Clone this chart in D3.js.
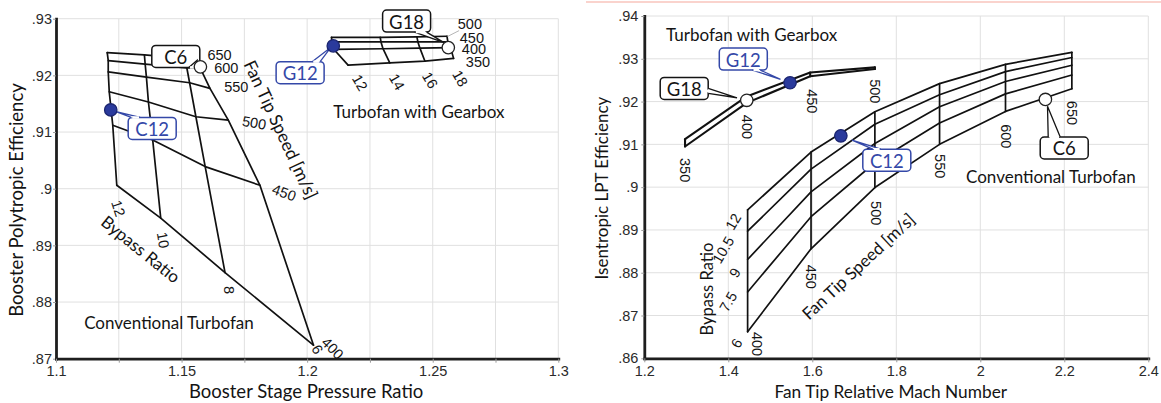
<!DOCTYPE html>
<html>
<head>
<meta charset="utf-8">
<script src="https://cdn.jsdelivr.net/npm/d3@7"></script>
<style>
  html, body { margin: 0; padding: 0; background: #fff; }
  svg { display: block; }
</style>
</head>
<body>
<svg id="chart" width="1161" height="403"></svg>
<script>
// ===================== Data =====================

// --- Booster panel (left) ---
const boosterPRTicks  = [1.1, 1.15, 1.2, 1.25, 1.3];
const boosterPRGrid   = [1.1, 1.125, 1.15, 1.175, 1.2, 1.225, 1.25, 1.275, 1.3];
const boosterEffTicks = [0.87, 0.88, 0.89, 0.90, 0.91, 0.92, 0.93];

// Conventional turbofan carpet: rows = fan tip speed, columns = bypass ratio
const convSpeedB  = [650, 600, 550, 500, 450, 400];
const convBypassB = [12, 10, 8, 6];
const convPRB = [
  [1.1204, 1.1352, 1.1514, 1.1557],
  [1.1208, 1.1355, 1.1521, 1.1573],
  [1.1208, 1.1360, 1.1532, 1.1613],
  [1.1212, 1.1368, 1.1557, 1.1686],
  [1.1226, 1.1385, 1.1594, 1.1812],
  [1.1242, 1.1417, 1.1673, 1.2025]
];
const convEffB = [
  [0.9240, 0.9236, 0.9230, 0.9228],
  [0.9226, 0.9220, 0.9213, 0.9214],
  [0.9206, 0.9197, 0.9187, 0.9177],
  [0.9171, 0.9153, 0.9127, 0.9121],
  [0.9112, 0.9086, 0.9039, 0.9006],
  [0.9006, 0.8948, 0.8852, 0.8724]
];

// Geared turbofan carpet: rows = fan tip speed, columns = bypass ratio
const gearSpeedB  = [500, 450, 400, 350];
const gearBypassB = [12, 14, 16, 18];
const gearPRB = [
  [1.2097, 1.2291, 1.2437, 1.2557],
  [1.2099, 1.2294, 1.2441, 1.2560],
  [1.2106, 1.2302, 1.2449, 1.2571],
  [1.2163, 1.2329, 1.2469, 1.2583]
];
const gearEffB = [
  [0.9267, 0.9267, 0.9268, 0.9269],
  [0.9259, 0.9259, 0.9259, 0.9259],
  [0.9246, 0.9247, 0.9248, 0.9249],
  [0.9218, 0.9222, 0.9225, 0.9230]
];

// Design points on the booster map
const pointNamesB  = ["C12", "C6", "G12", "G18"];
const pointPRB     = [1.1218, 1.1575, 1.2104, 1.2562];
const pointEffB    = [0.9139, 0.9215, 0.9252, 0.9249];
const pointFilledB = [true, false, true, false];

// --- LPT panel (right) ---
const machTicks    = [1.2, 1.4, 1.6, 1.8, 2.0, 2.2, 2.4];
const lptEffTicks  = [0.86, 0.87, 0.88, 0.89, 0.90, 0.91, 0.92, 0.93, 0.94];

// Conventional turbofan carpet: rows = bypass ratio, columns = fan tip speed
const convSpeedR  = [400, 450, 500, 550, 600, 650];
const convMachR   = [1.446, 1.597, 1.749, 1.903, 2.060, 2.218];
const convBypassR = [12, 10.5, 9, 7.5, 6];
const convEffR = [
  [0.8947, 0.9082, 0.9176, 0.9242, 0.9287, 0.9315],
  [0.8897, 0.9042, 0.9147, 0.9216, 0.9270, 0.9303],
  [0.8831, 0.8989, 0.9102, 0.9188, 0.9247, 0.9285],
  [0.8755, 0.8931, 0.9057, 0.9150, 0.9218, 0.9262],
  [0.8662, 0.8856, 0.8999, 0.9100, 0.9177, 0.9230]
];

// Geared turbofan carpet (narrow band): rows = bypass ratio, columns = fan tip speed
const gearSpeedR  = [350, 400, 450, 500];
const gearMachR   = [1.297, 1.444, 1.595, 1.749];
const gearBypassR = [12, 18];
const gearEffR = [
  [0.9112, 0.9212, 0.9268, 0.9280],
  [0.9095, 0.9197, 0.9259, 0.9276]
];

// Design points on the LPT map
const pointNamesR  = ["G12", "G18", "C12", "C6"];
const pointMachR   = [1.547, 1.444, 1.668, 2.155];
const pointEffR    = [0.9244, 0.9203, 0.9120, 0.9205];
const pointFilledR = [true, false, true, false];

// ===================== Drawing =====================
const svg = d3.select("#chart");
const FONT_TEXT = "Lato, 'Open Sans', sans-serif";
const FONT_NUM  = "'Liberation Sans', Arial, sans-serif";
const INK = "#111";
const BLUE = "#3448a8";
const fmtNum = d => String(+d.toFixed(3)).replace(/^0\./, ".");

// thin accent rule above the right panel
svg.append("line")
  .attr("x1", 586).attr("x2", 1161).attr("y1", 2).attr("y2", 2)
  .attr("stroke", "#f5a79b").attr("stroke-width", 1.2);

function frame(x, y, xGrid, xLabels, yGrid, opt) {
  const g = svg.append("g");
  const [y0, y1] = y.range();
  const [x0, x1] = x.range();
  g.append("g").selectAll("line").data(xGrid).join("line")
    .attr("x1", d => x(d)).attr("x2", d => x(d))
    .attr("y1", y0).attr("y2", y1)
    .attr("stroke", "#e0e0e0").attr("stroke-width", 1);
  g.append("g").selectAll("line").data(yGrid).join("line")
    .attr("x1", x0).attr("x2", x1)
    .attr("y1", d => y(d)).attr("y2", d => y(d))
    .attr("stroke", "#e0e0e0").attr("stroke-width", 1);

  const isLabel = d => xLabels.some(v => Math.abs(v - d) < 1e-9);
  const ax = d3.axisBottom(x).tickValues(xGrid).tickSize(4).tickSizeOuter(0)
    .tickPadding(3).tickFormat(d => isLabel(d) ? fmtNum(d) : "");
  const ay = d3.axisLeft(y).tickValues(yGrid).tickSize(opt.yTick).tickSizeOuter(0)
    .tickPadding(opt.yPad).tickFormat(fmtNum);

  const gx = g.append("g").attr("transform", `translate(0,${y0})`).call(ax);
  const gy = g.append("g").attr("transform", `translate(${x0},0)`).call(ay);
  [gx, gy].forEach(a => {
    a.selectAll(".tick line").attr("stroke", "#9a9a9a");
    a.selectAll(".tick text").attr("fill", "#2a2a2a")
      .style("font-family", FONT_NUM).style("font-size", "14.5px");
    a.select(".domain").attr("stroke", "#1e1e1e").attr("stroke-width", 2.8)
      .attr("stroke-linecap", "square");
  });
  gx.raise();
  return g;
}

function text(g, str, px, py, rot, size, family, fill, anchor) {
  g.append("text")
    .attr("transform", `translate(${px},${py}) rotate(${rot || 0})`)
    .attr("text-anchor", anchor || "middle")
    .attr("dominant-baseline", "central")
    .style("font-family", family)
    .style("font-size", size + "px")
    .attr("fill", fill || "#141414")
    .text(str);
}

const lineGen = d3.line();

function carpet(g, xs, ys, width) {
  // xs, ys: matrices [row][col] in pixels
  const rows = xs.length, cols = xs[0].length;
  const paths = [];
  for (let i = 0; i < rows; i++) paths.push(d3.range(cols).map(j => [xs[i][j], ys[i][j]]));
  for (let j = 0; j < cols; j++) paths.push(d3.range(rows).map(i => [xs[i][j], ys[i][j]]));
  g.append("g").selectAll("path").data(paths).join("path")
    .attr("d", lineGen)
    .attr("fill", "none").attr("stroke", INK).attr("stroke-width", width || 1.7)
    .attr("stroke-linejoin", "round").attr("stroke-linecap", "round");
}

function markers(g, xs, ys, filled) {
  g.append("g").selectAll("circle").data(xs).join("circle")
    .attr("cx", d => d).attr("cy", (d, i) => ys[i]).attr("r", 6.2)
    .attr("fill", (d, i) => filled[i] ? "#2a3a9c" : "#fff")
    .attr("stroke", (d, i) => filled[i] ? "#1c2670" : "#222")
    .attr("stroke-width", 1.3);
}

// callout box with a narrow pointer toward its point
function callout(g, label, cx, cy, tipX, tipY, edge, b0, b1, color) {
  const w = 48, h = 22;
  g.append("rect")
    .attr("x", cx - w / 2).attr("y", cy - h / 2).attr("width", w).attr("height", h)
    .attr("rx", 4).attr("fill", "#fff").attr("stroke", color).attr("stroke-width", 1.5);
  let a, b;
  if (edge === "top")    { a = [cx + b0, cy - h / 2]; b = [cx + b1, cy - h / 2]; }
  if (edge === "bottom") { a = [cx + b0, cy + h / 2]; b = [cx + b1, cy + h / 2]; }
  if (edge === "right")  { a = [cx + w / 2, cy + b0]; b = [cx + w / 2, cy + b1]; }
  if (edge === "left")   { a = [cx - w / 2, cy + b0]; b = [cx - w / 2, cy + b1]; }
  g.append("path")
    .attr("d", `M${a[0]},${a[1]}L${tipX},${tipY}L${b[0]},${b[1]}`)
    .attr("fill", "#fff").attr("stroke", color).attr("stroke-width", 1.3)
    .attr("stroke-linejoin", "miter");
  const inset = edge === "top" || edge === "bottom" ? [1.2, 0] : [0, 1.2];
  g.append("line")
    .attr("x1", a[0] + inset[0]).attr("y1", a[1] + inset[1])
    .attr("x2", b[0] - inset[0]).attr("y2", b[1] - inset[1])
    .attr("stroke", "#fff").attr("stroke-width", 2.4);
  text(g, label, cx, cy + 0.5, 0, 18.5, FONT_TEXT, color);
}

// ---------------- Left panel: booster ----------------
const xL = d3.scaleLinear().domain([1.1, 1.3]).range([56, 558.3]);
const yL = d3.scaleLinear().domain([0.87, 0.93]).range([358.7, 18.7]);
const gL = frame(xL, yL, boosterPRGrid, boosterPRTicks, boosterEffTicks, { yTick: 3, yPad: 1 });

carpet(gL, convPRB.map(r => r.map(xL)), convEffB.map(r => r.map(yL)));
carpet(gL, gearPRB.map(r => r.map(xL)), gearEffB.map(r => r.map(yL)));

// leader from the top speed label to its line
const leadB = { from: [1.2605, 0.9279], to: [1.2559, 0.92686] };
gL.append("line")
  .attr("x1", xL(leadB.from[0])).attr("y1", yL(leadB.from[1]))
  .attr("x2", xL(leadB.to[0])).attr("y2", yL(leadB.to[1]))
  .attr("stroke", "#b5b5b5").attr("stroke-width", 1);

// carpet labels (positions in data units)
const convSpeedLabelPosB = [[1.1651, 0.92356, 0], [1.1678, 0.92132, 0], [1.1718, 0.91787, 0],
                            [1.1789, 0.91162, 10], [1.1908, 0.89928, 20], [1.2101, 0.87183, 45]];
convSpeedB.forEach((s, i) => {
  const p = convSpeedLabelPosB[i];
  text(gL, s, xL(p[0]), yL(p[1]), p[2], 14.5, FONT_NUM);
});
const convBypassLabelPosB = [[1.1248, 0.89653, 72], [1.1426, 0.89093, 80], [1.1689, 0.88212, 90], [1.2040, 0.87165, 62]];
convBypassB.forEach((b, i) => {
  const p = convBypassLabelPosB[i];
  text(gL, b, xL(p[0]), yL(p[1]), p[2], 14.5, FONT_NUM);
});
const gearSpeedLabelPosB = [[1.2648, 0.92903], [1.2656, 0.92661], [1.2664, 0.92457], [1.2680, 0.92238]];
gearSpeedB.forEach((s, i) => {
  const p = gearSpeedLabelPosB[i];
  text(gL, s, xL(p[0]), yL(p[1]), 0, 14.5, FONT_NUM);
});
const gearBypassLabelPosB = [[1.2210, 0.91868], [1.2357, 0.91885], [1.2489, 0.91915], [1.2609, 0.91945]];
gearBypassB.forEach((b, i) => {
  const p = gearBypassLabelPosB[i];
  text(gL, b, xL(p[0]), yL(p[1]), 60, 14.5, FONT_NUM);
});

text(gL, "Fan Tip Speed [m/s]", xL(1.1896), yL(0.91045), 65, 17.5, FONT_TEXT);
text(gL, "Bypass Ratio", xL(1.1338), yL(0.88935), 39, 17, FONT_TEXT);
text(gL, "Conventional Turbofan", xL(1.1112), yL(0.87647), 0, 17, FONT_TEXT, "#141414", "start");
text(gL, "Turbofan with Gearbox", xL(1.2104), yL(0.91356), 0, 17, FONT_TEXT, "#141414", "start");

// callouts for the design points (box centre, pointer tip, base edge)
const calloutB = {
  C12: { box: [1.1383, 0.91063], tip: [1.1239, 0.91360], edge: "top",    base: [-21, -12] },
  C6:  { box: [1.1477, 0.92334], tip: [1.1562, 0.92268], edge: "bottom", base: [13, 21] },
  G12: { box: [1.1972, 0.92048], tip: [1.2095, 0.92497], edge: "top",    base: [12, 20] },
  G18: { box: [1.2396, 0.92958], tip: [1.2545, 0.92577], edge: "bottom", base: [8, 20] }
};
pointNamesB.forEach((n, i) => {
  const c = calloutB[n];
  callout(gL, n, xL(c.box[0]), yL(c.box[1]), xL(c.tip[0]), yL(c.tip[1]), c.edge, c.base[0], c.base[1],
          pointFilledB[i] ? BLUE : "#141414");
});
markers(gL, pointPRB.map(xL), pointEffB.map(yL), pointFilledB);

text(svg, "Booster Stage Pressure Ratio", xL(1.1996), 391, 0, 18.5, FONT_TEXT);
text(svg, "Booster Polytropic Efficiency", 15.5, 200, -90, 18.5, FONT_TEXT);

// ---------------- Right panel: LPT ----------------
const xR = d3.scaleLinear().domain([1.2, 2.4]).range([644.3, 1148.3]);
const yR = d3.scaleLinear().domain([0.86, 0.94]).range([358.3, 16]);
const gR = frame(xR, yR, machTicks, machTicks, lptEffTicks, { yTick: 3, yPad: 3 });

carpet(gR, convEffR.map(r => convMachR.map(xR)), convEffR.map(r => r.map(yR)));
carpet(gR, gearEffR.map(r => gearMachR.map(xR)), gearEffR.map(r => r.map(yR)), 2.1);

const convSpeedLabelPosR = [[1.4683, 0.86334], [1.5969, 0.87905], [1.7517, 0.89392],
                            [1.9040, 0.90490], [2.0612, 0.91190], [2.2190, 0.91734]];
convSpeedR.forEach((s, i) => {
  const p = convSpeedLabelPosR[i];
  text(gR, s, xR(p[0]), yR(p[1]), 90, 14.5, FONT_NUM);
});
const convBypassLabelPosR = [[1.4119, 0.89189], [1.3881, 0.88529], [1.4160, 0.87999], [1.4000, 0.87322], [1.4200, 0.86350]];
convBypassR.forEach((b, i) => {
  const p = convBypassLabelPosR[i];
  text(gR, b, xR(p[0]), yR(p[1]), -60, 14.5, FONT_NUM);
});
const gearSpeedLabelPosR = [[1.2969, 0.90398], [1.4438, 0.91407], [1.5986, 0.92008], [1.7493, 0.92241]];
gearSpeedR.forEach((s, i) => {
  const p = gearSpeedLabelPosR[i];
  text(gR, s, xR(p[0]), yR(p[1]), 90, 14.5, FONT_NUM);
});

text(gR, "Turbofan with Gearbox", xR(1.2517), yR(0.93558), 0, 17, FONT_TEXT, "#141414", "start");
text(gR, "Conventional Turbofan", xR(1.9660), yR(0.90256), 0, 17, FONT_TEXT, "#141414", "start");
text(gR, "Bypass Ratio", xR(1.3486), yR(0.87618), -90, 16.5, FONT_TEXT);
text(gR, "Fan Tip Speed [m/s]", xR(1.7088), yR(0.88155), -43, 17, FONT_TEXT);

const calloutR = {
  G12: { box: [1.4357, 0.92993], tip: [1.5243, 0.92521], edge: "bottom", base: [9, 17] },
  G18: { box: [1.2950, 0.92306], tip: [1.4207, 0.92089], edge: "right",  base: [0, 5] },
  C12: { box: [1.7774, 0.90630], tip: [1.6945, 0.91101], edge: "top",    base: [-14, -6] },
  C6:  { box: [2.1998, 0.90915], tip: [2.1600, 0.91891], edge: "top",    base: [-16, -4] }
};
pointNamesR.forEach((n, i) => {
  const c = calloutR[n];
  callout(gR, n, xR(c.box[0]), yR(c.box[1]), xR(c.tip[0]), yR(c.tip[1]), c.edge, c.base[0], c.base[1],
          pointFilledR[i] ? BLUE : "#141414");
});
markers(gR, pointMachR.map(xR), pointEffR.map(yR), pointFilledR);

text(svg, "Fan Tip Relative Mach Number", xR(1.7868), 391.5, 0, 17.3, FONT_TEXT);
text(svg, "Isentropic LPT Efficiency", 601.5, 188, -90, 17, FONT_TEXT);
</script>
</body>
</html>
